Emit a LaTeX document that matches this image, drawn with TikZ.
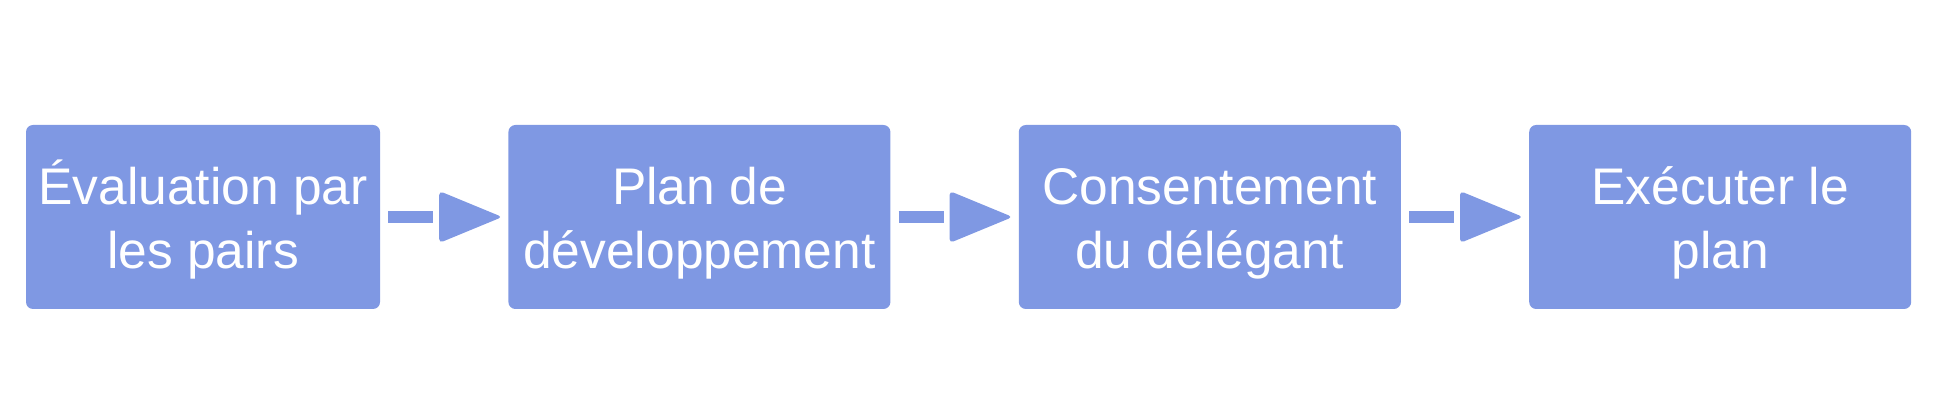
\documentclass[tikz,border=0pt]{standalone}
\usepackage{fontspec}
\setmainfont{Liberation Sans}
\usepackage{tikz}
\usetikzlibrary{positioning, calc}
\definecolor{boxblue}{RGB}{127,152,227}
\tikzstyle{stepbox} = [rectangle, rounded corners=7pt, minimum width=382pt, minimum height=184pt, inner sep=0pt, text centered, align=center, fill=boxblue, text=white, font=\fontsize{51.5pt}{64pt}\selectfont, execute at begin node={\rule[-11pt]{0pt}{126pt}}]
\tikzstyle{shaft} = [draw=boxblue, line width=12pt]
\tikzstyle{arrowhead} = [fill=boxblue, rounded corners=4pt]

\begin{document}
\begin{tikzpicture}
\useasboundingbox (0,0) rectangle (1940pt,420pt);
\node [stepbox, minimum width=354pt] (eval) at (203pt,203pt) {Évaluation par\\les pairs};
\node [stepbox, right=128pt of eval] (plan) {Plan de\\développement};
\node [stepbox, right=128pt of plan] (consent) {Consentement\\du délégant};
\node [stepbox, right=128pt of consent] (exec) {Exécuter le\\plan};
\foreach \a/\b in {eval/plan, plan/consent, consent/exec} {
    \draw [shaft] ([xshift=8pt]\a.east) -- ([xshift=-75pt]\b.west);
    \fill [arrowhead] ([xshift=-6pt]\b.west) -- ++(-63pt,26pt) -- ++(0,-52pt) -- cycle;
}
\end{tikzpicture}
\end{document}
